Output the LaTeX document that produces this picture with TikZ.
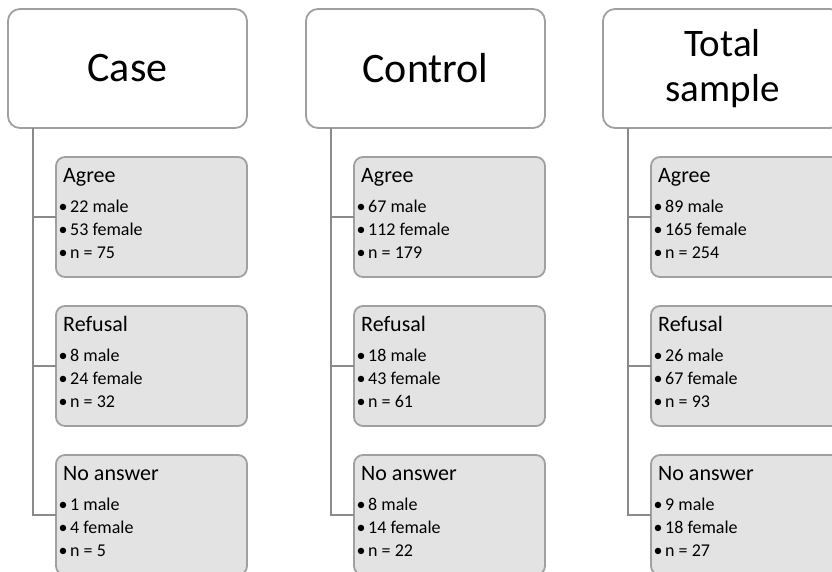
\documentclass[tikz,border=0pt]{standalone}
\usepackage{fontspec}
\setmainfont{Carlito}
\definecolor{connc}{RGB}{138,138,138}
\definecolor{borderc}{RGB}{160,160,160}
\definecolor{subfill}{RGB}{227,227,227}
\tikzset{
  head/.style={draw=borderc, line width=1.8pt, fill=white, rounded corners=12pt,
    minimum width=239pt, minimum height=119pt, anchor=north west, inner sep=0pt,
    outer sep=0pt, font=\fontsize{42}{50}\selectfont, align=center},
  sub/.style={draw=borderc, line width=1.8pt, fill=subfill, rounded corners=9pt,
    minimum width=191pt, minimum height=120pt, anchor=north west, inner sep=0pt,
    outer sep=0pt},
  ttl/.style={anchor=base west, inner sep=0pt, font=\fontsize{22}{26}\selectfont},
  itm/.style={anchor=base west, inner sep=0pt, font=\fontsize{18}{22}\selectfont},
  conn/.style={draw=connc, line width=2pt},
}
\newcommand\blt[1]{\llap{\textbullet\hspace{2.5pt}}#1}
\newcommand\subbox[7]{%
  \node[sub] (#1) at (#2,#3) {};
  \node[ttl] (#1-t) at ([xshift=7pt,yshift=-25pt]#1.north west) {#4};
  \node[itm] (#1-a) at ([xshift=14pt,yshift=-55.5pt]#1.north west) {\blt{#5}};
  \node[itm] (#1-b) at ([xshift=14pt,yshift=-78.5pt]#1.north west) {\blt{#6}};
  \node[itm] (#1-c) at ([xshift=14pt,yshift=-101.5pt]#1.north west) {\blt{#7}};
}
\begin{document}
\begin{tikzpicture}[x=1pt,y=-1pt]
\useasboundingbox (0,0) rectangle (832,571);
\fill[white] (0,0) rectangle (832,571);

% Case column
\node[head] (h1) at (8,9) {Case};
\subbox{a1}{56}{157}{Agree}{22 male}{53 female}{n = 75}
\subbox{r1}{56}{306}{Refusal}{8 male}{24 female}{n = 32}
\subbox{n1}{56}{455}{No answer}{1 male}{4 female}{n = 5}
\draw[conn] ([xshift=25pt]h1.south west) |- (n1.west);
\draw[conn] ([xshift=25pt]h1.south west) |- (a1.west);
\draw[conn] ([xshift=25pt]h1.south west) |- (r1.west);

% Control column
\node[head] (h2) at (306,9) {Control};
\subbox{a2}{354}{157}{Agree}{67 male}{112 female}{n = 179}
\subbox{r2}{354}{306}{Refusal}{18 male}{43 female}{n = 61}
\subbox{n2}{354}{455}{No answer}{8 male}{14 female}{n = 22}
\draw[conn] ([xshift=25pt]h2.south west) |- (n2.west);
\draw[conn] ([xshift=25pt]h2.south west) |- (a2.west);
\draw[conn] ([xshift=25pt]h2.south west) |- (r2.west);

% Total column
\node[head, font=\fontsize{39}{45}\selectfont] (h3) at (603,9) {Total\\sample};
\subbox{a3}{651}{157}{Agree}{89 male}{165 female}{n = 254}
\subbox{r3}{651}{306}{Refusal}{26 male}{67 female}{n = 93}
\subbox{n3}{651}{455}{No answer}{9 male}{18 female}{n = 27}
\draw[conn] ([xshift=25pt]h3.south west) |- (n3.west);
\draw[conn] ([xshift=25pt]h3.south west) |- (a3.west);
\draw[conn] ([xshift=25pt]h3.south west) |- (r3.west);
\end{tikzpicture}
\end{document}
